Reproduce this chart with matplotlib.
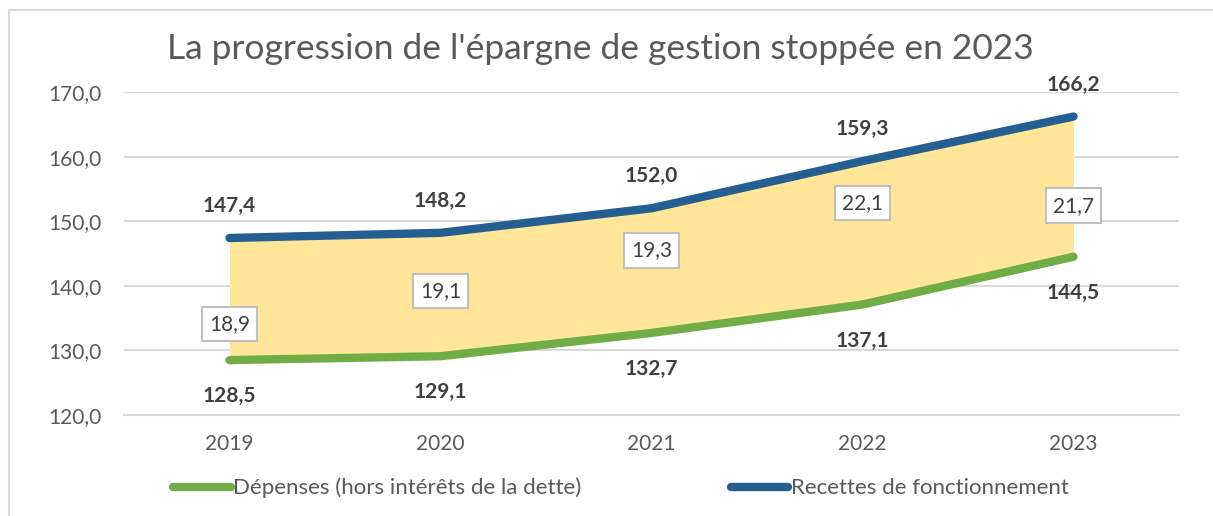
import matplotlib
matplotlib.use("Agg")
import matplotlib.pyplot as plt
from matplotlib.patches import Rectangle

years = ["2019", "2020", "2021", "2022", "2023"]
depenses = [128.5, 129.1, 132.7, 137.1, 144.5]
recettes = [147.4, 148.2, 152.0, 159.3, 166.2]
epargne = [18.9, 19.1, 19.3, 22.1, 21.7]
epargne_y = [134.1, 139.2, 145.5, 152.8, 152.4]
title = "La progression de l'épargne de gestion stoppée en 2023"
lab_dep = "Dépenses (hors intérêts de la dette)"
lab_rec = "Recettes de fonctionnement"

plt.rcParams['font.family'] = ['Lato', 'DejaVu Sans']

fig = plt.figure(figsize=(12.13, 5.16), dpi=100)
fig.patches.append(Rectangle((9/1213, -0.1), 1.2, (516-10)/516 + 0.1, transform=fig.transFigure,
                             fill=False, edgecolor='#d9d9d9', linewidth=1.5))
ax = fig.add_axes([124/1213, (516-415)/516, 1055/1213, 323/516])

x = list(range(len(years)))
blue = '#255E91'
green = '#70AD47'
ax.fill_between(x, depenses, recettes, color='#FFE699', zorder=1, linewidth=0)
ld, = ax.plot(x, depenses, color=green, lw=6, solid_capstyle='round', solid_joinstyle='round', zorder=3)
lr, = ax.plot(x, recettes, color=blue, lw=6, solid_capstyle='round', solid_joinstyle='round', zorder=3)

ax.set_xlim(-0.5, 4.5)
ax.set_ylim(120, 170)
ticks = [120, 130, 140, 150, 160, 170]
ax.set_yticks(ticks)
ax.set_yticklabels([f"{v:.1f}".replace('.', ',') for v in ticks])
ax.set_xticks(x)
ax.set_xticklabels(years)
ax.tick_params(axis='both', length=0, labelsize=15, colors='#595959')
ax.tick_params(axis='y', pad=16)
ax.tick_params(axis='x', pad=14)
ax.grid(axis='y', color='#d9d9d9', lw=1.5, zorder=0)
ax.set_axisbelow(True)
for s in ['top', 'right', 'left']:
    ax.spines[s].set_visible(False)
ax.spines['bottom'].set_color('#d9d9d9')
ax.spines['bottom'].set_linewidth(1.5)

for xi, v in zip(x, recettes):
    ax.annotate(f"{v:.1f}".replace('.', ','), (xi, v), xytext=(0, 23), textcoords='offset points',
                ha='center', va='center', fontsize=15, fontweight='bold', color='#404040', zorder=5)
for xi, v in zip(x, depenses):
    ax.annotate(f"{v:.1f}".replace('.', ','), (xi, v), xytext=(0, -26), textcoords='offset points',
                ha='center', va='center', fontsize=15, fontweight='bold', color='#404040', zorder=5)
for xi, v, yy in zip(x, epargne, epargne_y):
    ax.text(xi, yy, f"{v:.1f}".replace('.', ','), ha='center', va='center', fontsize=15,
            color='#404040', zorder=6,
            bbox=dict(boxstyle='square,pad=0.35', facecolor='white', edgecolor='#bfbfbf', linewidth=1.5))

fig.text(600/1213, 1 - 49/516, title, ha='center', va='center', fontsize=25.5, color='#595959')

leg = fig.legend([ld, lr], [lab_dep, lab_rec], loc='center', bbox_to_anchor=(621/1213, 1 - 488/516),
                 ncol=2, frameon=False, fontsize=16, handlelength=2.6, handletextpad=0.1,
                 columnspacing=6.7, labelcolor='#595959')

fig.savefig("out.png", dpi=100)
